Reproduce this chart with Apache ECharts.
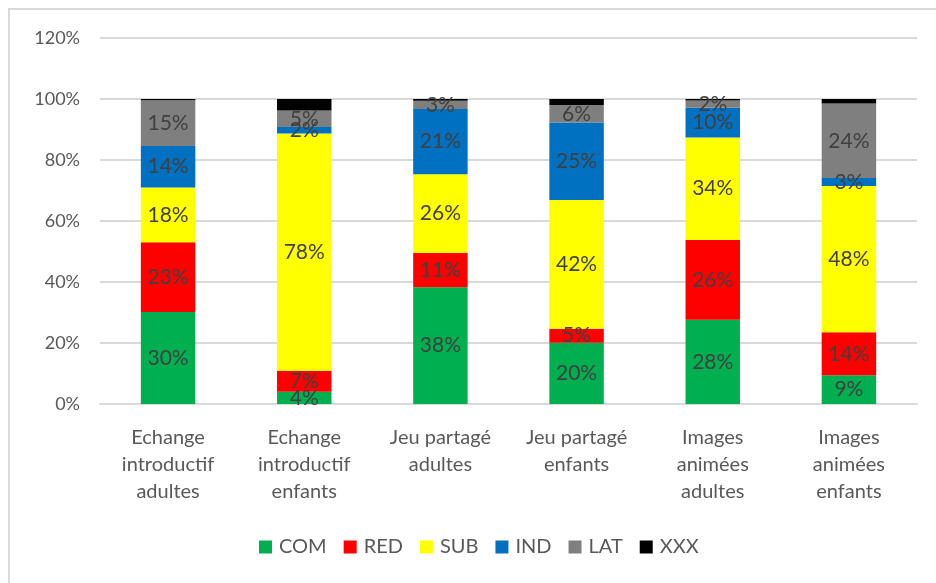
<!DOCTYPE html>
<html>
<head>
<meta charset="utf-8">
<script src="https://cdn.jsdelivr.net/npm/echarts@6/dist/echarts.min.js"></script>
<style>
  html, body { margin: 0; padding: 0; background: #fff; overflow: hidden; }
  #frame {
    position: absolute; left: 8px; top: 8px;
    width: 1000px; height: 700px;
    border-left: 2px solid #d9d9d9; border-top: 2px solid #d9d9d9;
  }
  #chart { position: absolute; left: 0; top: 0; width: 936px; height: 583px; }
</style>
</head>
<body>
<div id="frame"></div>
<div id="chart"></div>
<script>
// categories (x axis)
const categories = [
  "Echange\nintroductif\nadultes",
  "Echange\nintroductif\nenfants",
  "Jeu partagé\nadultes",
  "Jeu partagé\nenfants",
  "Images\nanimées\nadultes",
  "Images\nanimées\nenfants"
];

// shares in %
const COM = [30.2, 4.0, 38.3, 20.1, 27.6, 9.4];
const RED = [22.8, 6.9, 11.2, 4.6, 26.2, 14.1];
const SUB = [18.0, 77.8, 25.8, 42.2, 33.6, 48.0];
const IND = [13.6, 2.1, 21.4, 25.4, 9.7, 2.6];
const LAT = [15.0, 5.4, 2.7, 5.7, 2.4, 24.4];
const XXX = [0.4, 3.8, 0.6, 2.0, 0.5, 1.5];

const yTicks = [0, 20, 40, 60, 80, 100, 120];

const font = "Lato";

function serie(name, data, color, showLabel) {
  return {
    name: name,
    type: "bar",
    stack: "total",
    data: data,
    barWidth: "40%",
    itemStyle: { color: color },
    label: {
      show: showLabel,
      position: "inside",
      color: "#404040",
      fontFamily: font,
      fontSize: 21,
      formatter: (p) => Math.round(p.value) + "%"
    }
  };
}

let myChart = echarts.init(document.getElementById("chart"));
let option = {
  backgroundColor: "transparent",
  animation: false,
  textStyle: { fontFamily: font },
  grid: { left: 100, right: 19, top: 38, bottom: 179, containLabel: false },
  legend: {
    top: 532,
    left: 254,
    itemWidth: 13,
    itemHeight: 13,
    itemGap: 17,
    icon: "rect",
    textStyle: { color: "#595959", fontSize: 20, fontFamily: font, padding: [0, 0, 0, 2] },
    data: ["COM", "RED", "SUB", "IND", "LAT", "XXX"]
  },
  xAxis: {
    type: "category",
    data: categories,
    axisLine: { lineStyle: { color: "#d9d9d9", width: 2 } },
    axisTick: { show: false },
    axisLabel: {
      color: "#595959",
      fontSize: 20,
      fontFamily: font,
      lineHeight: 27,
      margin: 20,
      interval: 0
    }
  },
  yAxis: {
    type: "value",
    min: yTicks[0],
    max: yTicks[yTicks.length - 1],
    interval: 20,
    axisLine: { show: false },
    axisTick: { show: false },
    splitLine: { lineStyle: { color: "#d9d9d9", width: 2 } },
    axisLabel: {
      color: "#595959",
      fontSize: 18,
      fontFamily: font,
      margin: 20,
      formatter: (v) => v + "%"
    }
  },
  series: [
    serie("COM", COM, "#00b050", true),
    serie("RED", RED, "#ff0000", true),
    serie("SUB", SUB, "#ffff00", true),
    serie("IND", IND, "#0070c0", true),
    serie("LAT", LAT, "#7f7f7f", true),
    serie("XXX", XXX, "#000000", false)
  ]
};
myChart.setOption(option);
</script>
</body>
</html>
